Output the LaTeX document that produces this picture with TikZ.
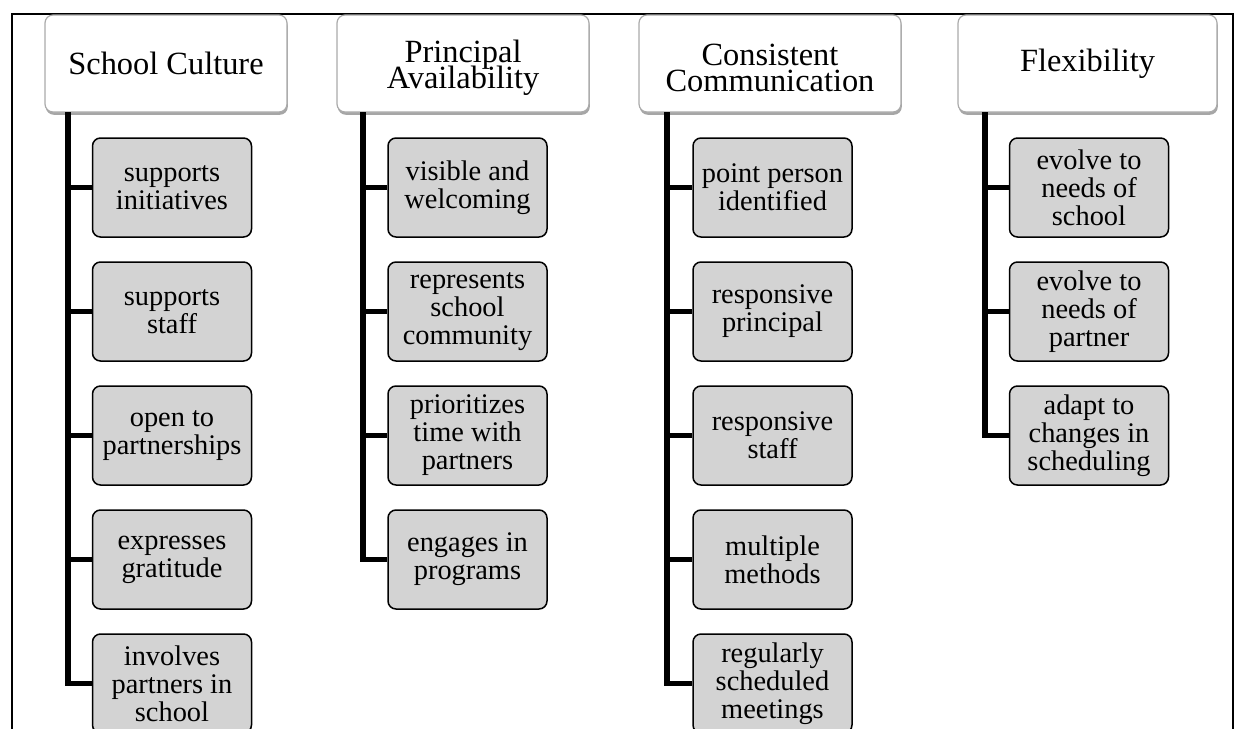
\documentclass[tikz,border=0pt]{standalone}
\usepackage{fontspec}
\setmainfont{Liberation Serif}
\usetikzlibrary{shadows}
\definecolor{childgray}{RGB}{211,211,211}
\definecolor{headline}{RGB}{170,170,170}
\tikzset{
  headbox/.style={draw=headline, line width=0.6pt, fill=white, rounded corners=4pt,
    minimum height=48.5pt, inner sep=2pt, align=center,
    font={\fontsize{16.2}{13}\selectfont\lineskiplimit=-20pt},
    drop shadow={shadow xshift=0.4pt, shadow yshift=-1.4pt, fill=black, opacity=0.35}},
  headtext/.style={inner sep=0pt, align=center,
    font={\fontsize{16.2}{13}\selectfont\lineskiplimit=-20pt}},
  childbox/.style={draw=black, line width=0.75pt, fill=childgray, rounded corners=4pt,
    minimum width=79.5pt, minimum height=49.5pt, inner sep=2pt, align=center,
    font={\fontsize{14.2}{14}\selectfont}},
  trunk/.style={line width=2.8pt, black},
  frameline/.style={line width=1pt, black}
}
\begin{document}
\begin{tikzpicture}[x=0.5pt, y=-0.5pt]
\useasboundingbox (0,0) rectangle (1236,728);
\clip (0,0) rectangle (1236,728);
% frame
\draw[frameline] (12,760) -- (12,14) -- (1233,14) -- (1233,760);

% ---------- column 1 ----------
\node[headbox, minimum width=121pt] (h1) at (166,63.5) {School Culture};
\node[childbox] (c11) at (172,187.5) {supports\\initiatives};
\node[childbox] (c12) at (172,311.5) {supports\\staff};
\node[childbox] (c13) at (172,435.5) {open to\\partnerships};
\node[childbox] (c14) at (172,559.5) {expresses\\gratitude};
\node[childbox] (c15) at (172,683.5) {involves\\partners in\\school};
\coordinate (t1) at (68,112);
\draw[trunk] (t1) |- (c15.west);
\foreach \c in {c11,c12,c13,c14} \draw[trunk] (t1 |- \c.west) -- (\c.west);

% ---------- column 2 ----------
\node[headbox, minimum width=126pt] (h2) at (463,63.5) {};
\node[headtext] (h2t) at (463,68) {Principal\\Availability};
\node[childbox] (c21) at (467.5,187.5) {visible and\\welcoming};
\node[childbox] (c22) at (467.5,311.5) {represents\\school\\community};
\node[childbox] (c23) at (467.5,435.5) {prioritizes\\time with\\partners};
\node[childbox] (c24) at (467.5,559.5) {engages in\\programs};
\coordinate (t2) at (363,112);
\draw[trunk] (t2) |- (c24.west);
\foreach \c in {c21,c22,c23} \draw[trunk] (t2 |- \c.west) -- (\c.west);

% ---------- column 3 ----------
\node[headbox, minimum width=131pt] (h3) at (770,63.5) {};
\node[headtext] (h3t) at (770,68) {Consistent\\Communication};
\node[childbox] (c31) at (772.5,187.5) {point person\\identified};
\node[childbox] (c32) at (772.5,311.5) {responsive\\principal};
\node[childbox] (c33) at (772.5,435.5) {responsive\\staff};
\node[childbox] (c34) at (772.5,559.5) {multiple\\methods};
\node[childbox] (c35) at (772.5,683.5) {regularly\\scheduled\\meetings};
\coordinate (t3) at (667,112);
\draw[trunk] (t3) |- (c35.west);
\foreach \c in {c31,c32,c33,c34} \draw[trunk] (t3 |- \c.west) -- (\c.west);

% ---------- column 4 ----------
\node[headbox, minimum width=129.5pt] (h4) at (1087.5,63.5) {Flexibility};
\node[childbox] (c41) at (1089,187.5) {evolve to\\needs of\\school};
\node[childbox] (c42) at (1089,311.5) {evolve to\\needs of\\partner};
\node[childbox] (c43) at (1089,435.5) {adapt to\\changes in\\scheduling};
\coordinate (t4) at (985,112);
\draw[trunk] (t4) |- (c43.west);
\foreach \c in {c41,c42} \draw[trunk] (t4 |- \c.west) -- (\c.west);
\end{tikzpicture}
\end{document}
